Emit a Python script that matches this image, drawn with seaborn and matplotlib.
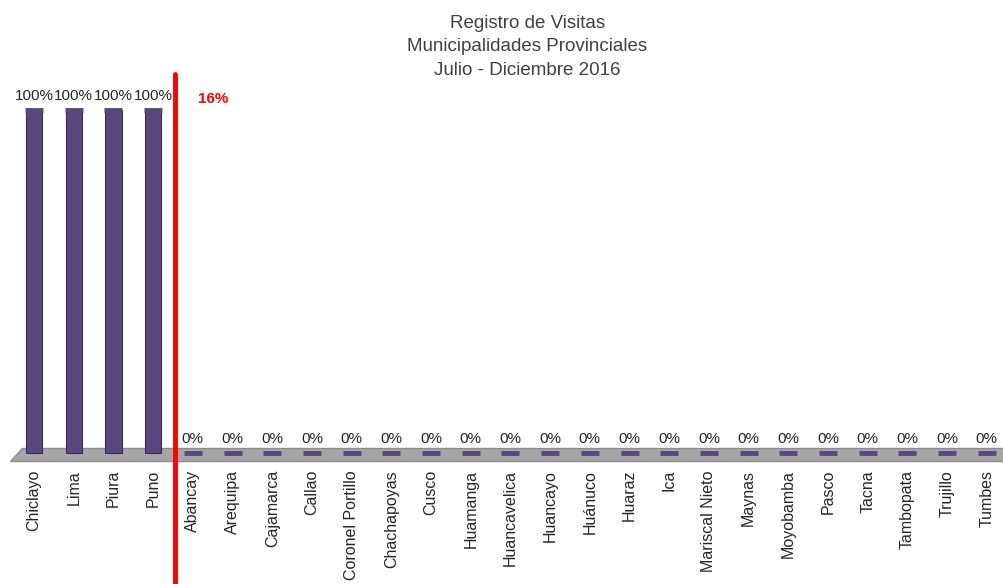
import pandas as pd
import matplotlib.pyplot as plt
import seaborn as sns

provincias = ["Chiclayo", "Lima", "Piura", "Puno", "Abancay", "Arequipa", "Cajamarca",
              "Callao", "Coronel Portillo", "Chachapoyas", "Cusco", "Huamanga",
              "Huancavelica", "Huancayo", "Huánuco", "Huaraz", "Ica", "Mariscal Nieto",
              "Maynas", "Moyobamba", "Pasco", "Tacna", "Tambopata", "Trujillo", "Tumbes"]
porcentajes = [100, 100, 100, 100] + [0] * 21
total_label = "16%"

sns.set_theme(style="white")
plt.rcParams["font.family"] = ["Liberation Sans", "DejaVu Sans"]

df = pd.DataFrame({"provincia": provincias, "pct": porcentajes})
n = len(df)

fig = plt.figure(figsize=(10.04, 5.84), dpi=100)
ax = fig.add_axes([0.0102, 0.195, 0.9925, 0.6455])

purple = "#59487d"
# floor of the 3d chart
ax.fill([-0.6, n - 0.5, n - 0.5, -0.3], [-2.3, -2.3, 1.6, 1.6], color="#a6a6a6",
        ec="#8c8c8c", lw=1, zorder=1)

sns.barplot(data=df, x="provincia", y="pct", color=purple, width=0.41,
            edgecolor="#3a2d5c", linewidth=0.8, saturation=1, ax=ax, zorder=2)

# flat caps (zero bars and bar tops)
ax.plot(df.index, df["pct"], ls="none", marker="_", ms=13, mew=3.5,
        color=purple, zorder=3)

for i, v in enumerate(df["pct"]):
    ax.text(i, v + 4.2, f"{v}%", ha="center", va="center", fontsize=11,
            color="#262626")

ax.set_xlim(-0.6, n - 0.5)
ax.set_ylim(-5, 105)
ax.set_yticks([])
ax.set_xlabel("")
ax.set_ylabel("")
ax.tick_params(axis="x", length=0, pad=0)
plt.setp(ax.get_xticklabels(), rotation=90, fontsize=11.5, color="#262626")
for s in ax.spines.values():
    s.set_visible(False)

ax.axvline(3.55, ymin=-0.31, ymax=1.05, color="red", lw=3.5, clip_on=False, zorder=4)
ax.text(4.5, 103.3, total_label, color="red", fontsize=11,
        fontweight="bold", ha="center", va="center")

fig.text(0.525, 0.975, "Registro de Visitas\nMunicipalidades Provinciales\nJulio - Diciembre 2016",
         ha="center", va="top", fontsize=13.5, color="#404040", linespacing=1.52)

fig.savefig("out.png", dpi=100)
